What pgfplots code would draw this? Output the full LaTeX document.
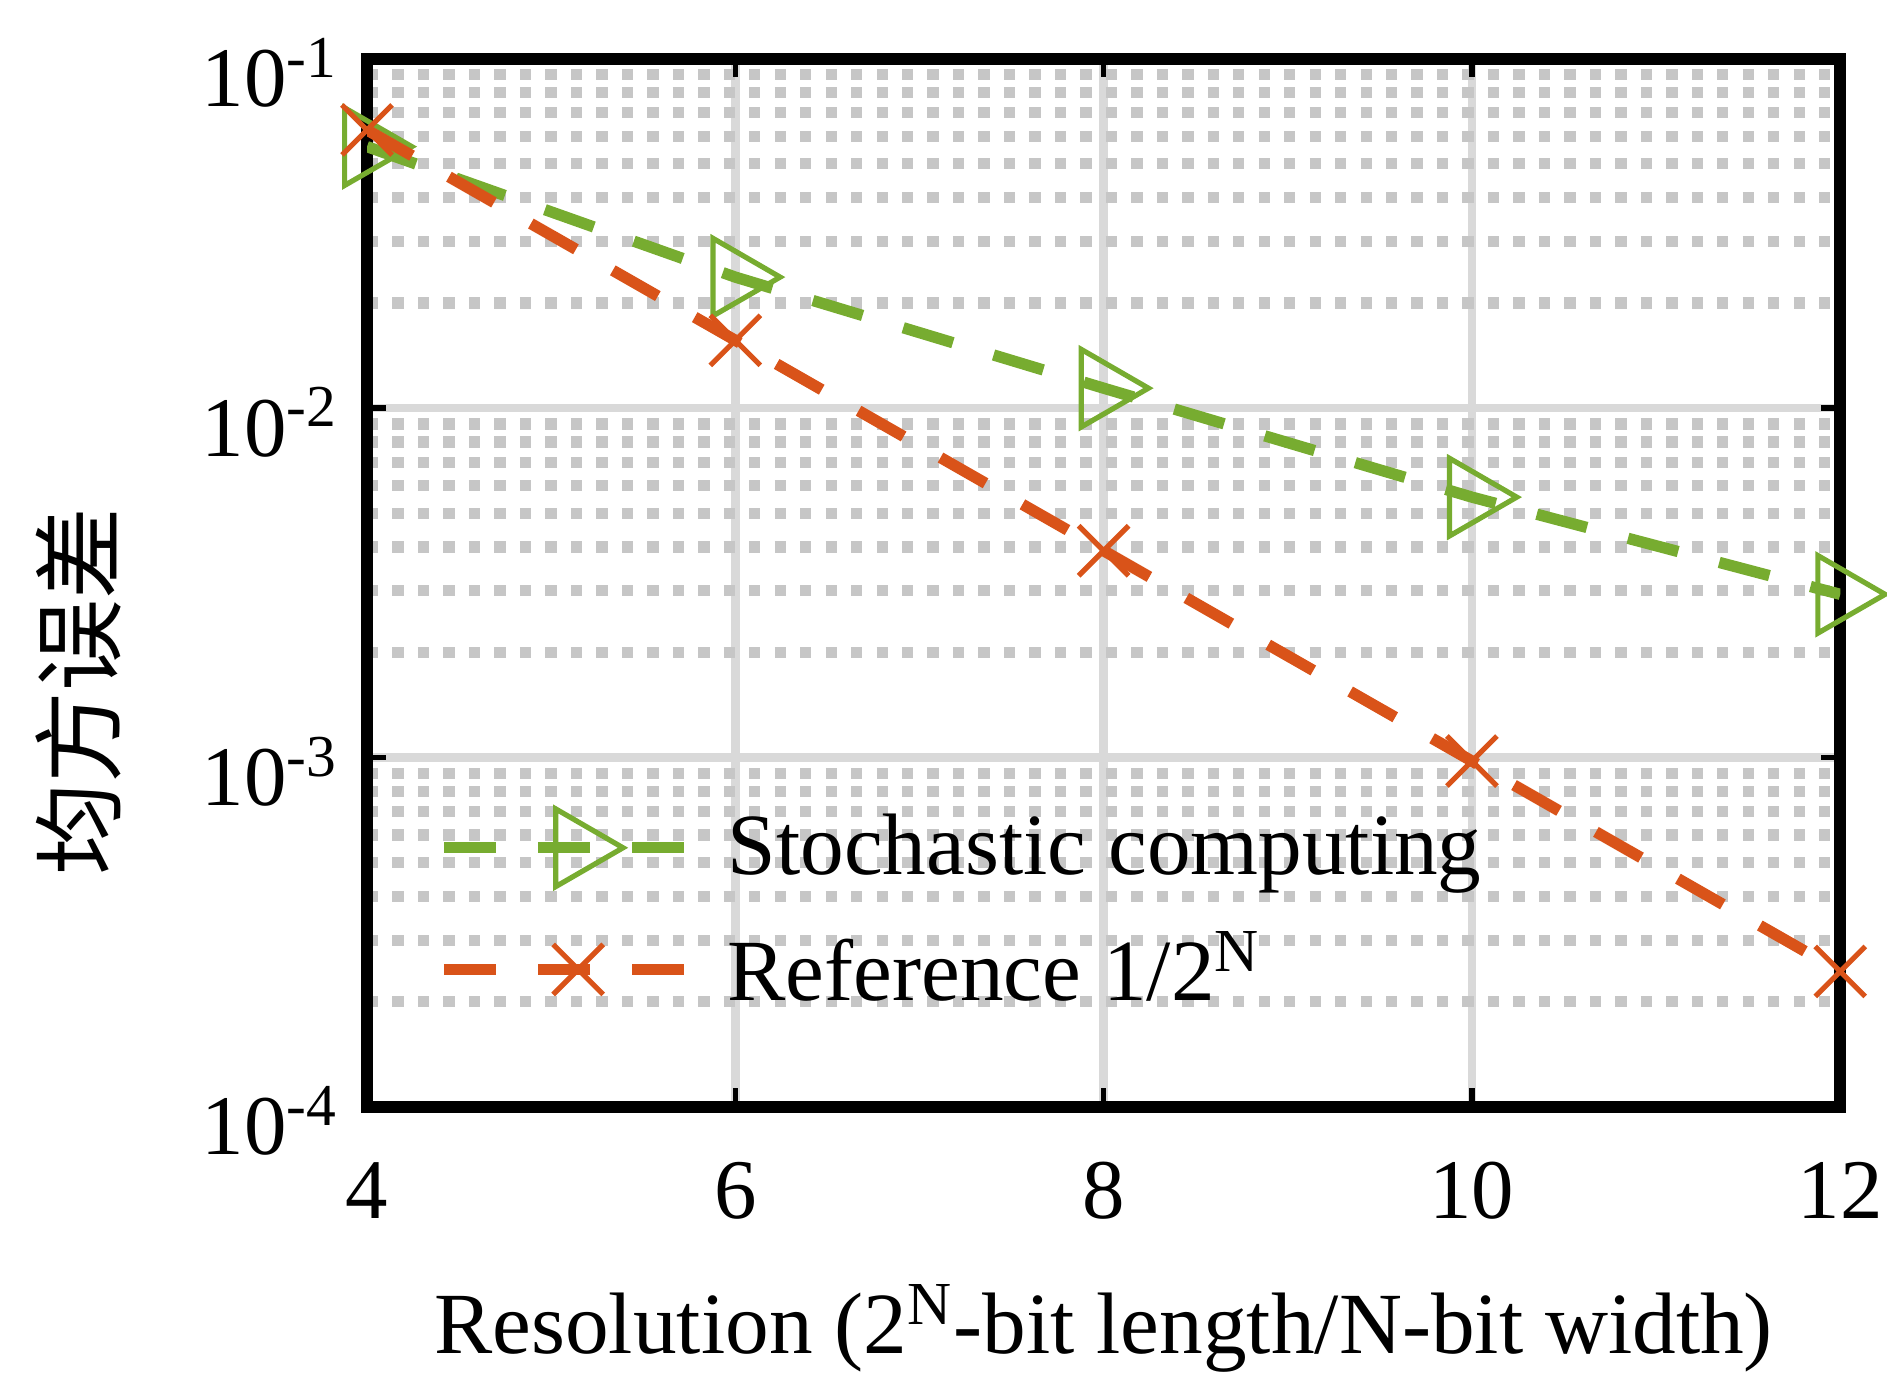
\documentclass[border=0pt]{standalone}
\usepackage{fontspec}
\setmainfont{Liberation Serif}
\newfontfamily\cjk{Noto Sans CJK SC}
\usepackage{pgfplots}
\pgfplotsset{compat=1.18}
\definecolor{scgreen}{RGB}{119,172,48}
\definecolor{reforange}{RGB}{217,83,25}
\pgfplotsset{layers/mylayers/.define layer set={axis background,axis grid,pre main,main,axis ticks,axis lines,axis tick labels,axis descriptions,axis foreground}{}}
\begin{document}
\begin{tikzpicture}
\begin{axis}[
  set layers=mylayers,
  at={(77.8pt,56.2pt)}, anchor=south west,
  scale only axis, width=312.3pt, height=222.2pt,
  ymode=log, xmin=4, xmax=12, ymin=1e-4, ymax=1e-1,
  xtick={4,6,8,10,12}, xticklabels={4,6,8,10,12},
  ytick={1e-4,1e-3,1e-2,1e-1},
  yticklabels={10\textsuperscript{-4},10\textsuperscript{-3},10\textsuperscript{-2},10\textsuperscript{-1}},
  minor ytick={2e-4,3e-4,4e-4,5e-4,6e-4,7e-4,8e-4,9e-4,2e-3,3e-3,4e-3,5e-3,6e-3,7e-3,8e-3,9e-3,2e-2,3e-2,4e-2,5e-2,6e-2,7e-2,8e-2,9e-2},
  xmajorgrids=true, ymajorgrids=true, yminorgrids=true,
  major grid style={gray!30, line width=1.8pt},
  minor grid style={gray!45, line width=2.4pt, dash pattern=on 2.4pt off 3pt},
  axis line style={black, line width=2.6pt},
  tick style={black, line width=1.2pt},
  major tick length=4pt, minor tick length=0pt,
  tick label style={font=\fontsize{18}{21}\selectfont},
  xticklabel style={anchor=base, yshift=-23.7pt},
  yticklabel style={xshift=-2.5pt, yshift=-3pt},
  xlabel={Resolution (2\textsuperscript{N}-bit length/N-bit width)},
  xlabel style={font=\fontsize{18.5}{22}\selectfont, at={(axis description cs:0.5,-0.2357)}, anchor=base},
  ylabel={\cjk 均方误差},
  ylabel style={font=\fontsize{19.5}{22}\selectfont, at={(axis description cs:-0.196,0.396)}, anchor=center},
  clip mode=individual,
  legend style={at={(axis description cs:0.038,0.187)}, anchor=west, draw=none, fill=none,
    font=\fontsize{18.5}{22}\selectfont, row sep=6.5pt},
  legend cell align=left,
  legend image code/.code={\draw[mark repeat=2,mark phase=2] plot coordinates {(0pt,0pt) (28.5pt,0pt) (57pt,0pt)};},
]
\addplot[scgreen, line width=2.4pt, dash pattern=on 11pt off 9pt,
  mark=triangle, mark size=9.5pt, mark options={solid, rotate=-90, line width=1.1pt, fill=none}]
  coordinates {(4,0.056) (6,0.0237) (8,0.0114) (10,0.00556) (12,0.00293)};
\addlegendentry{Stochastic computing}
\addplot[reforange, line width=2.4pt, dash pattern=on 11pt off 9pt,
  mark=x, mark size=7.5pt, mark options={solid, line width=1.1pt}]
  coordinates {(4,0.0625) (6,0.015625) (8,0.00390625) (10,0.0009765625) (12,0.000244140625)};
\addlegendentry{Reference 1/2\textsuperscript{N}}
\end{axis}
\pgfresetboundingbox
\path[use as bounding box] (0,0) rectangle (400pt,290.84pt);
\end{tikzpicture}
\end{document}
